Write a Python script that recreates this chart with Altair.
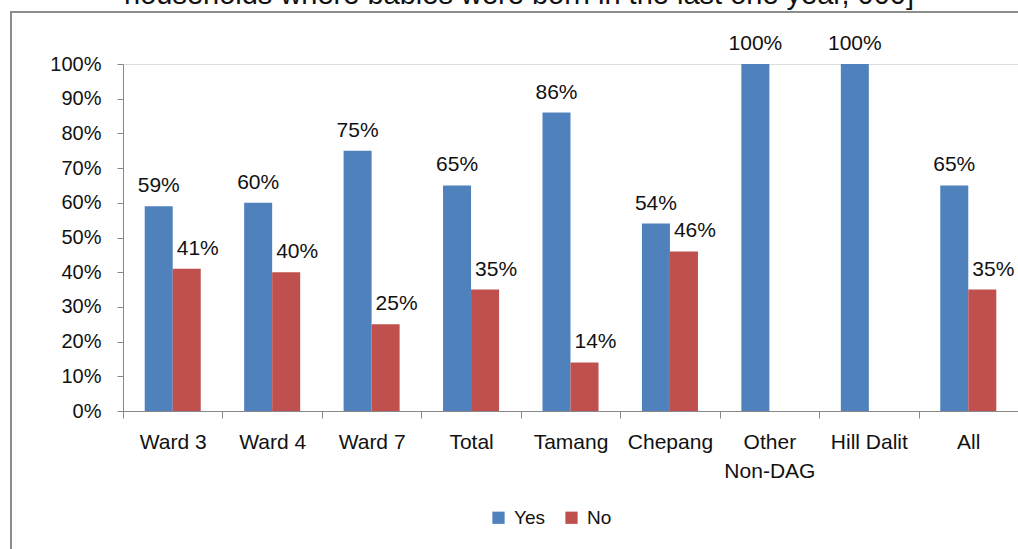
import altair as alt
import pandas as pd

categories = ["Ward 3", "Ward 4", "Ward 7", "Total", "Tamang", "Chepang", "Other\nNon-DAG", "Hill Dalit", "All"]
yes_vals = [59, 60, 75, 65, 86, 54, 100, 100, 65]
no_vals = [41, 40, 25, 35, 14, 46, None, None, 35]
series = ["Yes", "No"]
y_ticks = [0, 10, 20, 30, 40, 50, 60, 70, 80, 90, 100]
title_text = "households where babies were born in the last one year, 000]"

rows = []
for c, y, n in zip(categories, yes_vals, no_vals):
    rows.append({"cat": c, "series": "Yes", "value": y})
    if n is not None:
        rows.append({"cat": c, "series": "No", "value": n})
df = pd.DataFrame(rows)

FONT = "Liberation Sans"
W, H = 895, 347

x_axis = alt.Axis(labelExpr="split(datum.label, '\\n')", labelAngle=0,
                  labelFont=FONT, labelFontSize=21, labelColor="#111",
                  labelPadding=13, labelLineHeight=29, labelBaseline="top",
                  domainColor="#888", tickColor="#888", tickSize=7,
                  tickBand="extent", grid=False)
y_axis = alt.Axis(values=y_ticks, labelExpr="datum.value + '%'",
                  labelFont=FONT, labelFontSize=20, labelColor="#111",
                  labelPadding=16, labelOverlap=False,
                  domainColor="#888", tickColor="#888",
                  tickSize=6, grid=False)
x_enc = alt.X("cat:N", sort=categories, title=None,
              scale=alt.Scale(paddingInner=0, paddingOuter=0), axis=x_axis)
y_enc = alt.Y("value:Q", title=None,
              scale=alt.Scale(domain=[0, 100], nice=False), axis=y_axis)
color_enc = alt.Color("series:N", sort=series,
                      scale=alt.Scale(domain=series, range=["#4F81BD", "#C0504D"]),
                      legend=alt.Legend(title=None, orient="none", direction="horizontal",
                                        legendX=366, legendY=444, symbolType="square",
                                        symbolSize=150, symbolStrokeWidth=0,
                                        labelFont=FONT, labelFontSize=19, labelColor="#111",
                                        columnPadding=17, labelOffset=6))
xoff = alt.XOffset("series:N", sort=series,
                   scale=alt.Scale(domain=series, paddingOuter=0.775, paddingInner=0))

bars = alt.Chart(df).mark_bar().encode(
    x=x_enc, y=y_enc, color=color_enc, xOffset=xoff)

def label_layer(name, dx):
    return alt.Chart(df).transform_filter(
        alt.datum.series == name
    ).transform_calculate(label="datum.value + '%'").mark_text(
        font=FONT, fontSize=21, color="#111", baseline="bottom", dy=-10, dx=dx
    ).encode(
        x=x_enc, y=y_enc, xOffset=xoff,
        text=alt.Text("label:N"))

labels_yes = label_layer("Yes", 0)
labels_no = label_layer("No", 11)

frame = alt.Chart(pd.DataFrame({"a": [0]})).mark_rect(
    fill=None, stroke="#8c8c8c", strokeWidth=2).encode(
    x=alt.value(-112), x2=alt.value(W + 20), y=alt.value(-52), y2=alt.value(H + 160))

title = alt.Chart(pd.DataFrame({"t": [title_text]})).mark_text(
    font=FONT, fontSize=29, color="#111", baseline="alphabetic", align="center").encode(
    x=alt.value(396), y=alt.value(-60), text="t:N")

chart = alt.layer(frame, bars, labels_yes, labels_no, title).properties(
    width=W, height=H, autosize=alt.AutoSizeParams(type="none"),
    padding={"left": 123, "top": 64, "right": 0, "bottom": 138}
).configure_view(strokeWidth=0, stroke="transparent").configure(background="white")

chart.save("out.html", embed_options={"renderer": "svg", "actions": False})
